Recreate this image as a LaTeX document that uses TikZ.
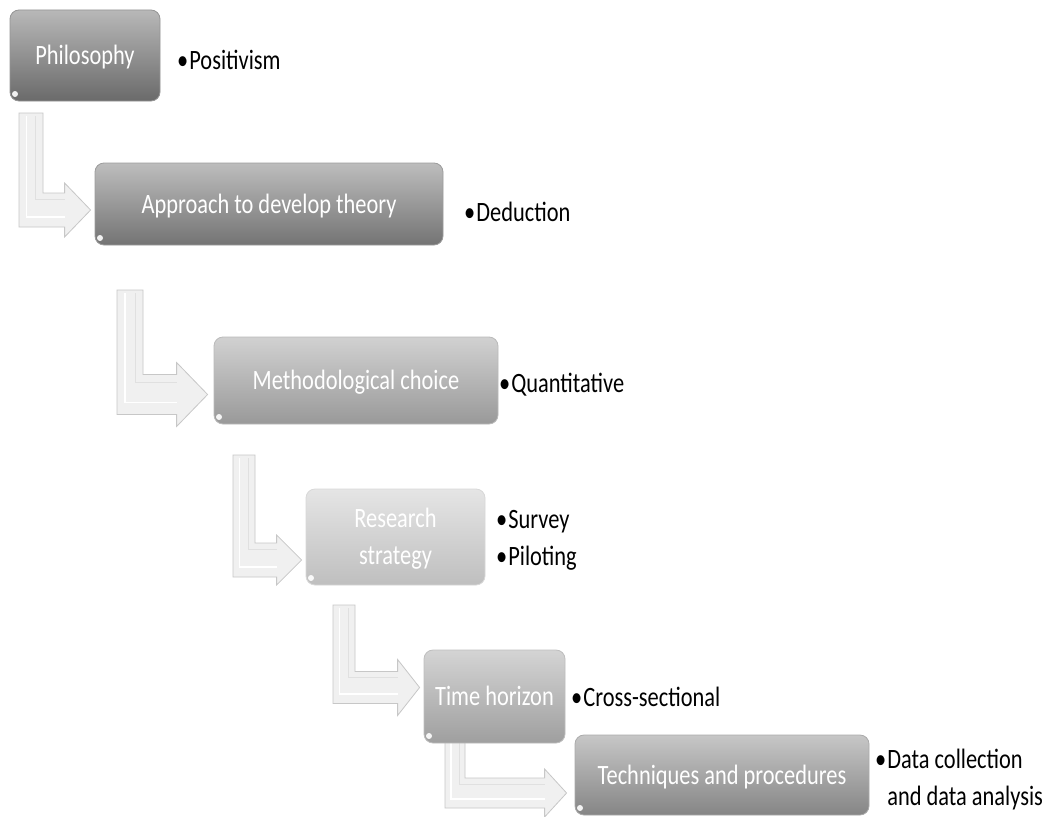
\documentclass[tikz,border=0pt]{standalone}
\usepackage{fontspec}
\setmainfont{Carlito}[FakeStretch=0.8]
\usetikzlibrary{calc}

\newcommand\stagefont{\fontsize{28}{37}\selectfont}

\definecolor{phc}{HTML}{717171}
\definecolor{apc}{HTML}{7B7B7B}
\definecolor{mec}{HTML}{A3A3A3}
\definecolor{rsc}{HTML}{CBCBCB}
\definecolor{thc}{HTML}{A9A9A9}
\definecolor{tpc}{HTML}{8E8E8E}

% L-shaped arrow: #1 top of the vertical bar, #2 tip, #3 bar width,
% #4 half height of the bar, #5 half height of the head, #6 head length
\newcommand\bentarrow[6]{%
  \filldraw[bendarrow] let \p1=(#1), \p2=(#2) in
    (\x1,\y1) -- (\x1+#3pt,\y1) -- (\x1+#3pt,\y2+#4pt) -- (\x2-#6pt,\y2+#4pt)
    -- (\x2-#6pt,\y2+#5pt) -- (\x2,\y2) -- (\x2-#6pt,\y2-#5pt)
    -- (\x2-#6pt,\y2-#4pt) -- (\x1,\y2-#4pt) -- cycle;
  \draw[black!12,line width=1pt] let \p1=(#1), \p2=(#2) in
    (\x1+#3pt*0.7,\y1-3pt) -- (\x1+#3pt*0.7,\y2+#4pt*0.6) -- (\x2-#6pt,\y2+#4pt*0.6);
  \draw[white,line width=1.4pt] let \p1=(#1), \p2=(#2) in
    (\x1+#3pt*0.3,\y1-3pt) -- (\x1+#3pt*0.3,\y2-#4pt*0.4) -- (\x2-#6pt,\y2-#4pt*0.4);}

\begin{document}
\begin{tikzpicture}[x=1pt,y=-1pt,
  stagebox/.style={rounded corners=9pt, draw=#1!75!white, line width=0.8pt,
    top color=#1!50!white, middle color=#1, bottom color=#1!94!black,
    text=white, font=\stagefont, align=center, inner sep=0pt,
    text height=18pt, text depth=0pt,
    path picture={
      \fill[white,opacity=0.9]
        ([xshift=5pt,yshift=7pt]path picture bounding box.south west) circle (3pt);
    }},
  note/.style={font=\stagefont, text=black, anchor=base west, inner sep=0pt, align=left},
  bendarrow/.style={fill=black!6, draw=black!22, line width=0.8pt, line join=miter}
]
\fill[white] (0,0) rectangle (1043,816);
\useasboundingbox (0,0) rectangle (1043,816);

% stages
\node[stagebox=phc, minimum width=150pt, minimum height=91pt] (phil) at (85,55.5) {Philosophy};
\node[stagebox=apc, minimum width=348pt, minimum height=82pt] (appr) at (269,204) {Approach to develop theory};
\node[stagebox=mec, minimum width=284pt, minimum height=87pt] (meth) at (356,380.5) {Methodological choice};
\node[stagebox=rsc, minimum width=179pt, minimum height=96pt, text height=55pt] (rese) at (395.5,537) {Research\\strategy};
\node[stagebox=tpc, minimum width=294pt, minimum height=80pt] (tech) at (722,775) {Techniques and procedures};

% connectors between the stages
\coordinate (s1) at (19,113);
\coordinate (t1) at ([shift={(-4,6)}]appr.west);
\coordinate (s2) at (117,290);
\coordinate (t2) at ([shift={(-6,14)}]meth.west);
\coordinate (s3) at (233,455);
\coordinate (t3) at ([shift={(-4,23)}]rese.west);
\coordinate (s5) at (445,735);
\coordinate (t5) at ([shift={(-8,18)}]tech.west);
\bentarrow{s1}{t1}{24}{17}{27}{26}
\bentarrow{s2}{t2}{26}{20}{32}{31}
\bentarrow{s3}{t3}{22}{17}{25}{25}
\bentarrow{s5}{t5}{20}{15}{24}{22}

% the time box covers the start of the last connector
\node[stagebox=thc, minimum width=141pt, minimum height=93pt] (time) at (494.5,696.5) {Time horizon};
\coordinate (s4) at (333,605);
\coordinate (t4) at ([shift={(-4,-9)}]time.west);
\bentarrow{s4}{t4}{22}{16}{28}{22}

% notes beside the stages
\node[note] (n1) at (177,70) {\textbullet\kern1pt Positivism};
\node[note] (n2) at (464,221) {\textbullet\kern1pt Deduction};
\node[note] (n3) at (499,392) {\textbullet\kern1pt Quantitative};
\node[note] (n4) at (496,565) {\textbullet\kern1pt Survey\\\textbullet\kern1pt Piloting};
\node[note] (n5) at (571,706) {\textbullet\kern1pt Cross-sectional};
\node[note] (n6) at (875,805) {\textbullet\kern1pt Data collection\\\hphantom{\textbullet\kern1pt}and data analysis};
\end{tikzpicture}
\end{document}
